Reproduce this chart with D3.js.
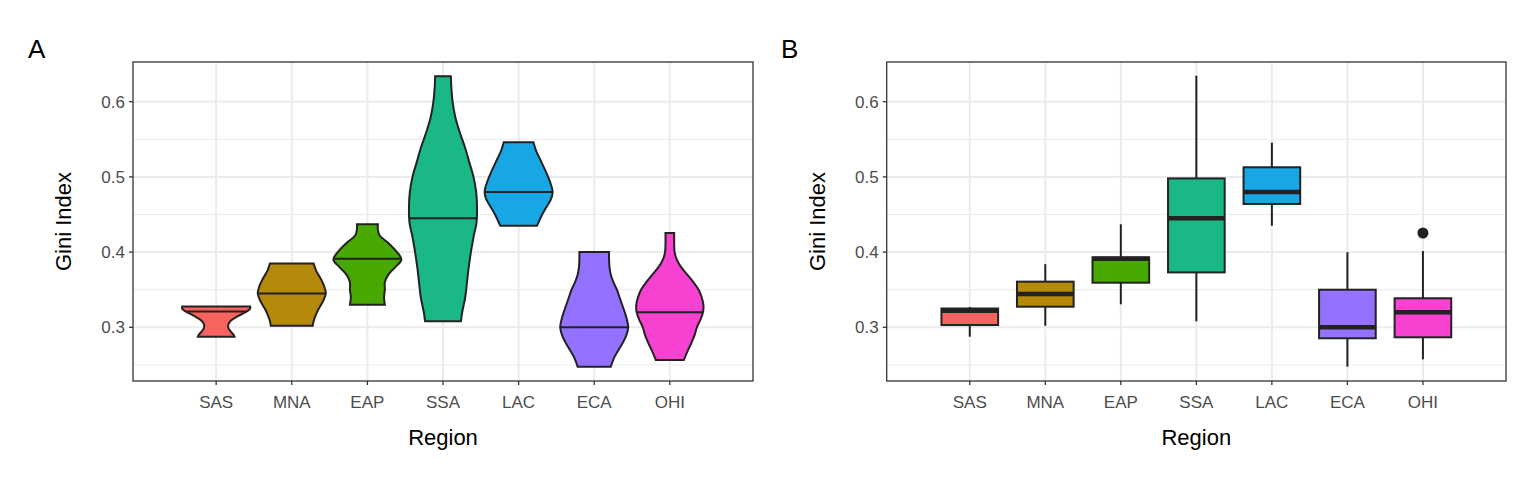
<!DOCTYPE html>
<html><head><meta charset="utf-8">
<script src="https://cdn.jsdelivr.net/npm/d3@7/dist/d3.min.js"></script>
<style>body{margin:0;background:#fff}text{font-family:"Liberation Sans",Arial,sans-serif}</style>
</head><body><svg id="c" width="1536" height="480"></svg>
<script>
const regions = ["SAS","MNA","EAP","SSA","LAC","ECA","OHI"];
const colors = ["#F8635F","#B5890A","#48A903","#19B886","#17A7E5","#9571FF","#F641D1"];
const yTicks = [0.3,0.4,0.5,0.6];
// violin density profiles: [gini, relative density]
const violinSAS = [[0.3275,39],[0.325,39],[0.321,35],[0.315,25],[0.309,17],[0.304,14],[0.299,14],[0.294,17],[0.290,20],[0.2875,21]];
const violinMNA = [[0.385,25],[0.375,28],[0.365,33],[0.355,37],[0.345,39],[0.335,36],[0.325,31],[0.315,27],[0.308,25],[0.302,24]];
const violinEAP = [[0.437,12],[0.43,12],[0.422,14],[0.412,24],[0.40,34],[0.39,39],[0.38,32],[0.37,24],[0.36,20],[0.35,20],[0.34,19],[0.33,20]];
const violinSSA = [[0.634,9],[0.62,9.5],[0.60,11],[0.58,14],[0.56,19],[0.54,25],[0.52,30],[0.50,35],[0.48,38],[0.46,39],[0.44,38.5],[0.42,35],[0.40,32],[0.38,29.5],[0.36,27.5],[0.34,25.5],[0.32,22],[0.308,20.5]];
const violinLAC = [[0.546,17],[0.535,20],[0.52,26],[0.505,32],[0.49,37],[0.48,39],[0.47,37],[0.46,32],[0.45,27],[0.44,23],[0.435,21]];
const violinECA = [[0.40,17],[0.39,17],[0.38,17.5],[0.37,19],[0.36,22],[0.35,26],[0.34,29],[0.33,32],[0.32,35],[0.31,37.5],[0.30,39],[0.29,37],[0.28,33],[0.27,28],[0.26,23],[0.2476,19]];
const violinOHI = [[0.4254,5],[0.41,5],[0.40,5.5],[0.39,8],[0.38,13],[0.37,20],[0.36,27],[0.35,33],[0.34,36.5],[0.33,38.5],[0.32,38],[0.31,35],[0.30,31],[0.29,28.5],[0.28,25],[0.27,21],[0.2565,16]];
const violins = [violinSAS,violinMNA,violinEAP,violinSSA,violinLAC,violinECA,violinOHI];
const medians = [0.321,0.345,0.391,0.445,0.480,0.300,0.320];
// box stats: [lower whisker, q1, median, q3, upper whisker]
const boxStats = [
 [0.2875,0.303,0.322,0.325,0.327],
 [0.302,0.3274,0.3443,0.3607,0.384],
 [0.3306,0.3593,0.391,0.393,0.437],
 [0.308,0.373,0.445,0.498,0.6346],
 [0.435,0.464,0.480,0.5128,0.5455],
 [0.2476,0.2854,0.300,0.350,0.400],
 [0.2574,0.2867,0.320,0.3386,0.4015]];
const outliers = [[6,0.4254]];

const svg = d3.select("#c");
const yTop=62, yBot=381;
const y = d3.scaleLinear().domain([0.6+(101.7-yTop)/752, 0.6-(yBot-101.7)/752]).range([yTop,yBot]);

function panel(x0,x1,label,lx,draw){
  const g = svg.append("g");
  const x = d3.scaleBand().domain(regions).range([x0,x1]).paddingOuter(0.6).paddingInner(0);
  const step = x.step();
  const cx = r => x(r)+step/2;
  const minor=[0.25,0.35,0.45,0.55];
  minor.forEach(v=>g.append("line").attr("x1",x0).attr("x2",x1).attr("y1",y(v)).attr("y2",y(v)).attr("stroke","#EBEBEB").attr("stroke-width",1));
  yTicks.forEach(v=>g.append("line").attr("x1",x0).attr("x2",x1).attr("y1",y(v)).attr("y2",y(v)).attr("stroke","#EBEBEB").attr("stroke-width",2));
  regions.forEach(r=>g.append("line").attr("x1",cx(r)).attr("x2",cx(r)).attr("y1",yTop).attr("y2",yBot).attr("stroke","#EBEBEB").attr("stroke-width",2));
  draw(g,cx,step);
  g.append("rect").attr("x",x0).attr("y",yTop).attr("width",x1-x0).attr("height",yBot-yTop).attr("fill","none").attr("stroke","#333").attr("stroke-width",1.3);
  yTicks.forEach(v=>{
    g.append("line").attr("x1",x0-4).attr("x2",x0).attr("y1",y(v)).attr("y2",y(v)).attr("stroke","#333").attr("stroke-width",1.3);
    g.append("text").attr("x",x0-8).attr("y",y(v)+6).attr("text-anchor","end").attr("font-size",17).attr("fill","#4D4D4D").text(v.toFixed(1));
  });
  regions.forEach(r=>{
    g.append("line").attr("x1",cx(r)).attr("x2",cx(r)).attr("y1",yBot).attr("y2",yBot+4).attr("stroke","#333").attr("stroke-width",1.3);
    g.append("text").attr("x",cx(r)).attr("y",yBot+27).attr("text-anchor","middle").attr("font-size",17).attr("fill","#4D4D4D").text(r);
  });
  g.append("text").attr("x",(x0+x1)/2).attr("y",445).attr("text-anchor","middle").attr("font-size",22).text("Region");
  g.append("text").attr("transform",`translate(${x0-62},${(yTop+yBot)/2}) rotate(-90)`).attr("text-anchor","middle").attr("font-size",22).text("Gini Index");
  g.append("text").attr("x",lx).attr("y",58).attr("font-size",26).text(label);
}

panel(133,753,"A",28,(g,cx,step)=>{
  const w = d3.scaleLinear().domain([0,39]).range([0,step*0.45]);
  regions.forEach((r,i)=>{
    const pts = violins[i];
    const right = pts.map(d=>[cx(r)+w(d[1]),y(d[0])]);
    const left = pts.slice().reverse().map(d=>[cx(r)-w(d[1]),y(d[0])]);
    const line = d3.line().curve(d3.curveCatmullRom);
    const p = line(right)+"L"+line(left).slice(1)+"Z";
    g.append("path").attr("d",p).attr("fill",colors[i]).attr("stroke","#222").attr("stroke-width",2);
    const m = medians[i];
    let hw=0;
    for(let k=0;k<pts.length-1;k++){const a=pts[k],b=pts[k+1];if(m<=a[0]&&m>=b[0]){hw=a[1]+(b[1]-a[1])*(a[0]-m)/(a[0]-b[0]);break;}}
    g.append("line").attr("x1",cx(r)-w(hw)).attr("x2",cx(r)+w(hw)).attr("y1",y(m)).attr("y2",y(m)).attr("stroke","#222").attr("stroke-width",2);
  });
});

panel(886.7,1506,"B",781,(g,cx,step)=>{
  const bw = step*0.75;
  regions.forEach((r,i)=>{
    const [lo,q1,md,q3,hi]=boxStats[i], c=cx(r);
    g.append("line").attr("x1",c).attr("x2",c).attr("y1",y(hi)).attr("y2",y(q3)).attr("stroke","#222").attr("stroke-width",2);
    g.append("line").attr("x1",c).attr("x2",c).attr("y1",y(q1)).attr("y2",y(lo)).attr("stroke","#222").attr("stroke-width",2);
    g.append("rect").attr("x",c-bw/2).attr("width",bw).attr("y",y(q3)).attr("height",y(q1)-y(q3)).attr("fill",colors[i]).attr("stroke","#222").attr("stroke-width",2);
    g.append("line").attr("x1",c-bw/2).attr("x2",c+bw/2).attr("y1",y(md)).attr("y2",y(md)).attr("stroke","#222").attr("stroke-width",4.5);
  });
  outliers.forEach(([i,v])=>g.append("circle").attr("cx",cx(regions[i])).attr("cy",y(v)).attr("r",5.5).attr("fill","#222"));
});
</script></body></html>
